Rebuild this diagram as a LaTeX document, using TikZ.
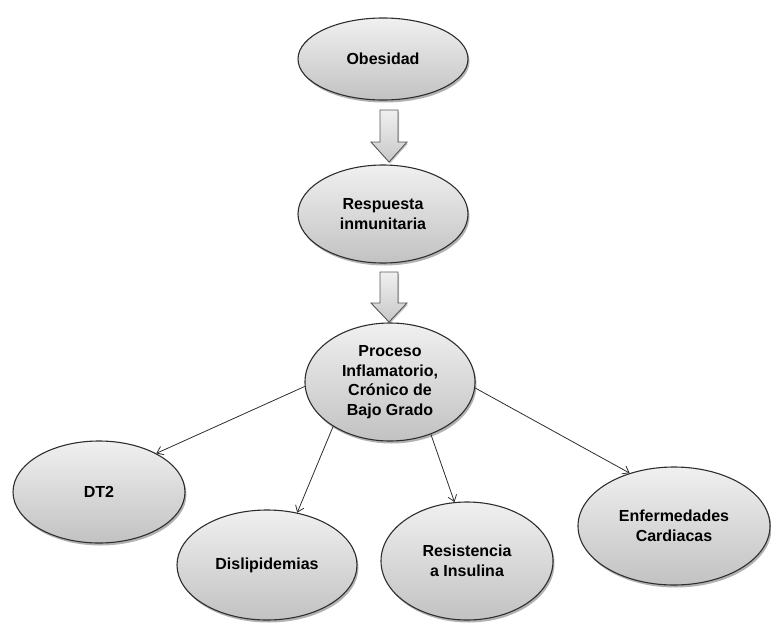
\documentclass[tikz,border=0pt]{standalone}
\usepackage{fontspec}
\setmainfont{Liberation Sans}
\usetikzlibrary{shapes.geometric,arrows.meta,shadows}
\definecolor{edgegray}{HTML}{2E2E2E}
\definecolor{filltop}{HTML}{F0F0F0}
\definecolor{fillbot}{HTML}{C2C2C2}
\tikzset{
  bubble/.style={ellipse, draw=edgegray, line width=1.1pt, top color=filltop, bottom color=fillbot,
    inner sep=0pt, align=center, font=\bfseries\fontsize{16}{19.5}\selectfont,
    drop shadow={shadow xshift=1.5pt, shadow yshift=-2.5pt, opacity=0.3, fill=black}},
  blockarrow/.style={draw=edgegray!80, line width=0.9pt, top color=filltop, bottom color=fillbot!90,
    drop shadow={shadow xshift=1pt, shadow yshift=-1.5pt, opacity=0.25, fill=black}},
  link/.style={draw=edgegray, line width=0.8pt, -{Straight Barb[length=6pt,width=9pt]}}
}
\begin{document}
\begin{tikzpicture}[x=1pt,y=-1pt]
\useasboundingbox (0,0) rectangle (771,624);
\node[bubble, minimum width=170pt, minimum height=82pt] (ob) at (383,59) {Obesidad};
\node[bubble, minimum width=170pt, minimum height=98pt] (resp) at (383,214) {Respuesta\\inmunitaria};
\node[bubble, minimum width=170pt, minimum height=118pt] (proc) at (390,382) {Proceso\\Inflamatorio,\\Crónico de\\Bajo Grado};
\node[bubble, minimum width=172pt, minimum height=102pt] (dt2) at (99,492) {DT2};
\node[bubble, minimum width=180pt, minimum height=110pt] (dis) at (267,565) {Dislipidemias};
\node[bubble, minimum width=172pt, minimum height=118pt] (res) at (467,561) {Resistencia\\a Insulina};
\node[bubble, minimum width=192pt, minimum height=118pt] (enf) at (674,526) {Enfermedades\\Cardiacas};
\coordinate (b1) at (389,110);
\coordinate (b2) at (389,272);
\draw[blockarrow] (b1) ++(-9,0) -- ++(18,0) -- ++(0,32) -- ++(9,0) -- ++(-18,20) -- ++(-18,-20) -- ++(9,0) -- cycle;
\draw[blockarrow] (b2) ++(-9,0) -- ++(18,0) -- ++(0,31) -- ++(9,0) -- ++(-18,19) -- ++(-18,-19) -- ++(9,0) -- cycle;
\draw[link] (proc.183) -- (dt2.34);
\draw[link] (proc.218) -- (dis.60);
\draw[link] (proc.308) -- (res.102);
\draw[link] (proc.356) -- (enf.130);
\end{tikzpicture}
\end{document}
